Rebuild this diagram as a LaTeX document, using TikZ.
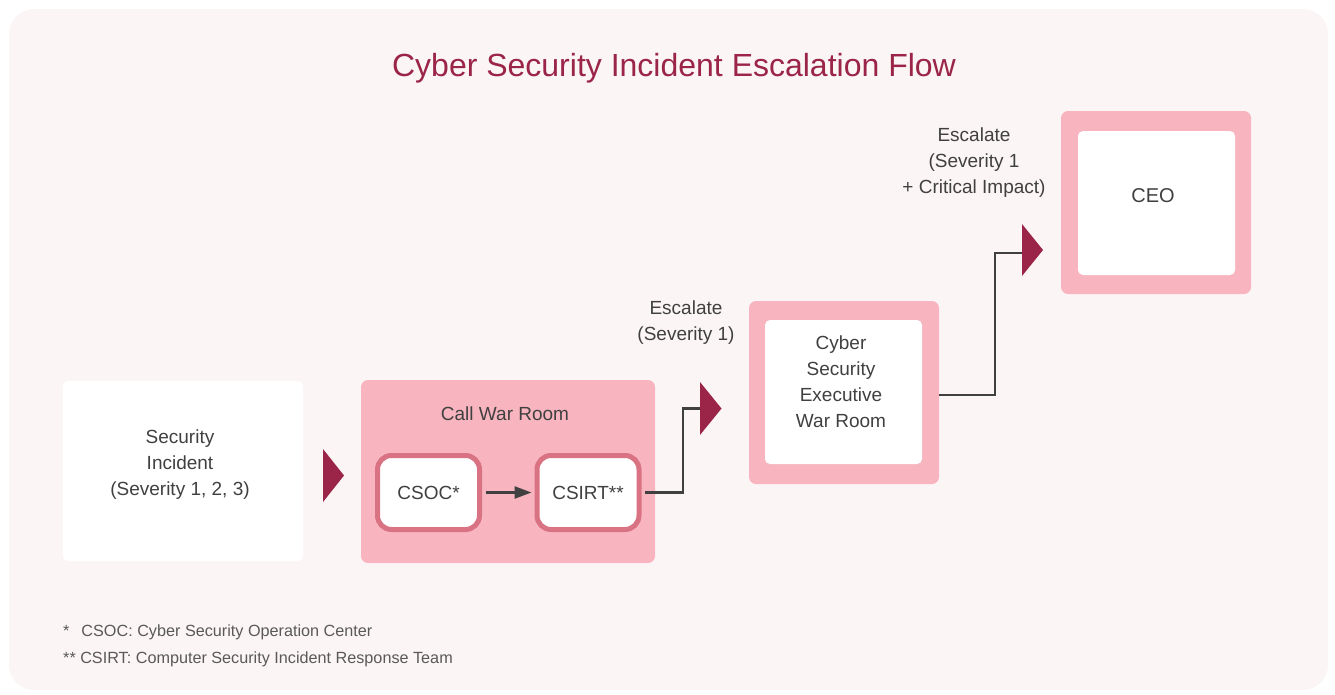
\documentclass[tikz,border=0pt]{standalone}
\usepackage{fontspec}
\setmainfont{Liberation Sans}
\usetikzlibrary{arrows.meta}
\definecolor{bgc}{HTML}{FCF5F5}
\definecolor{pinkf}{HTML}{F8B5BF}
\definecolor{pinkb}{HTML}{D97283}
\definecolor{maroon}{HTML}{9B2449}
\definecolor{txt}{HTML}{404040}
\definecolor{fnt}{HTML}{595959}
\tikzset{
  body/.style={font=\fontsize{19}{26}\selectfont, text=txt, align=center},
  whitebox/.style={fill=white, rounded corners=5pt, inner sep=0pt},
  pinkbox/.style={fill=pinkf, rounded corners=7pt, inner sep=0pt},
  smallbox/.style={fill=white, draw=pinkb, line width=5pt, rounded corners=14pt, minimum width=102pt, minimum height=74pt, inner sep=0pt, body},
  conn/.style={draw=txt, line width=2.5pt},
  tri/.style={fill=maroon},
  lbl/.style={body},
  foot/.style={anchor=west, font=\fontsize{16.2}{20}\selectfont, text=fnt, inner sep=0pt}
}
\begin{document}
\begin{tikzpicture}[x=1pt,y=-1pt]
\useasboundingbox (0,0) rectangle (1335,694);
\fill[bgc, rounded corners=25pt] (9,9) rectangle (1328,690);
\node[font=\fontsize{32}{38}\selectfont, text=maroon] (title) at (674,68) {Cyber Security Incident Escalation Flow};
% security incident
\node[whitebox, minimum width=240pt, minimum height=180pt] (sec) at (183,471) {};
\node[lbl] (secl) at (180,465) {Security\\Incident\\(Severity 1, 2, 3)};
% triangle 1
\fill[tri] (323,449) -- (344,475.5) -- (323,502) -- cycle;
\coordinate (t1) at (323,475.5);
% call war room
\node[pinkbox, minimum width=294pt, minimum height=183pt] (cwr) at (508,471.5) {};
\node[lbl] (cwrl) at (505,414) {Call War Room};
\node[smallbox] (csoc) at (428.5,492.5) {CSOC*};
\node[smallbox] (csirt) at (588,492.5) {CSIRT**};
\draw[conn, -{Triangle[length=17pt,width=12pt]}] (csoc.east) ++(3.5,0) -- ([xshift=-3pt]csirt.west);
% triangle 2
\fill[tri] (700,382) -- (721.5,408.5) -- (700,435) -- cycle;
\coordinate (t2) at (700,408.5);
\draw[conn] ([xshift=3pt]csirt.east) -| (683,408.5) -- (t2);
\node[lbl] (esc1) at (686,323) {Escalate\\(Severity 1)};
% exec war room
\node[pinkbox, minimum width=190pt, minimum height=183pt] (exo) at (844,392.5) {};
\node[whitebox, minimum width=157pt, minimum height=144pt] (exi) at (843.5,392) {};
\node[lbl] (exl) at (841,382) {Cyber\\Security\\Executive\\War Room};
% triangle 3
\fill[tri] (1022,224) -- (1043,250) -- (1022,276) -- cycle;
\coordinate (t3) at (1022,253);
\coordinate (exout) at (939,395);
\draw[conn] (exout) -- (995,395) -- (995,253) -- (t3);
\node[lbl] (esc2) at (974,163) {Escalate\\(Severity 1\\+ Critical Impact)};
% CEO
\node[pinkbox, minimum width=190pt, minimum height=183pt] (ceoo) at (1156,202.5) {};
\node[whitebox, minimum width=157pt, minimum height=144pt] (ceoi) at (1156.5,203) {};
\node[lbl, font=\fontsize{20}{26}\selectfont] (ceol) at (1153,196) {CEO};
% footnotes
\node[foot] (fn1) at (63,632) {*\hspace{12pt}CSOC: Cyber Security Operation Center};
\node[foot] (fn2) at (63,659) {** CSIRT: Computer Security Incident Response Team};
\end{tikzpicture}
\end{document}
